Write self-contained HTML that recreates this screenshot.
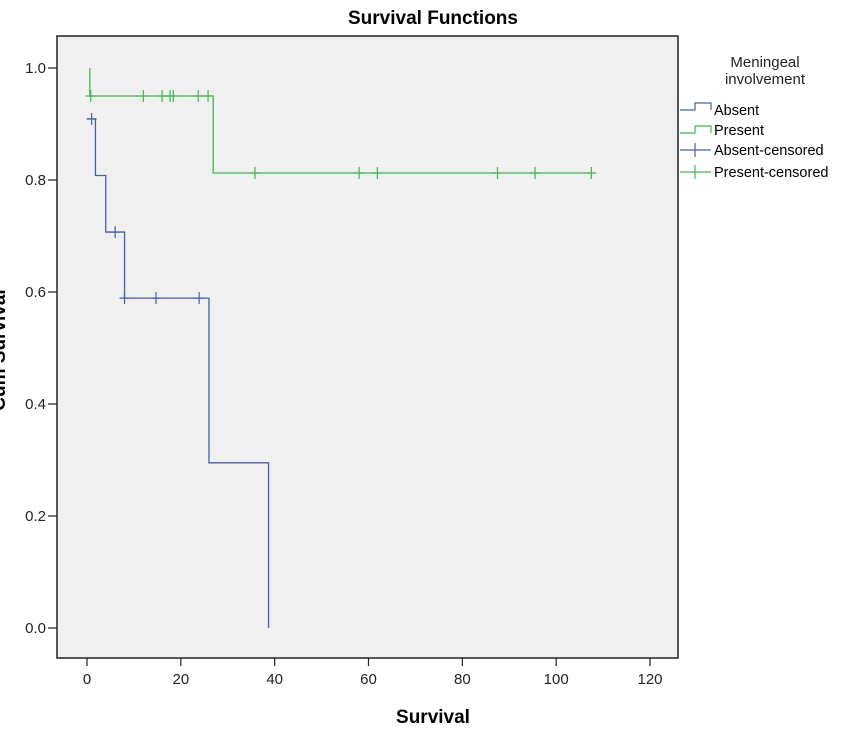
<!DOCTYPE html>
<html><head><meta charset="utf-8"><style>
body{margin:0;background:#fff;}
svg{display:block;font-family:"Liberation Sans",Arial,sans-serif;}
</style></head><body>
<svg id="chart" width="858" height="729" viewBox="0 0 858 729" xmlns="http://www.w3.org/2000/svg">
<text x="433" y="24" text-anchor="middle" font-size="19" font-weight="bold" fill="#000">Survival Functions</text>
<rect x="57" y="36" width="621" height="622" fill="#f0f0f0" stroke="#222" stroke-width="1.5"/>
<g id="axes"></g>
<g id="series"></g>
<text x="433" y="723" text-anchor="middle" font-size="19" font-weight="bold">Survival</text>
<text transform="translate(5,350) rotate(-90)" text-anchor="middle" font-size="19" font-weight="bold">Cum Survival</text>
<g>
<text x="765" y="67" text-anchor="middle" font-size="15" fill="#222">Meningeal</text>
<text x="765" y="84" text-anchor="middle" font-size="15" fill="#222">involvement</text>
<g><path d="M680 110 H695 V103 H711 V110" fill="none" stroke="#4a5ea8" stroke-width="1.2"/><text x="714" y="115" font-size="14.5">Absent</text></g>
<g><path d="M680 133 H695 V126 H711 V133" fill="none" stroke="#45b553" stroke-width="1.2"/><text x="714" y="135" font-size="14.5">Present</text></g>
<g><path d="M680 150 H711 M695 143 V157" stroke="#4a5ea8" stroke-width="1.2"/><text x="714" y="155" font-size="14.5">Absent-censored</text></g>
<g><path d="M680 172 H711 M695 165 V179" stroke="#45b553" stroke-width="1.2"/><text x="714" y="177" font-size="14.5">Present-censored</text></g>
</g>
</svg>
<script>
const xTicks=[0,20,40,60,80,100,120];
const yTicks=[0.0,0.2,0.4,0.6,0.8,1.0];
const absentTimes=[0,1.8,4,8,26,38.7];
const absentSurv=[0.909,0.808,0.707,0.589,0.295,0];
const absentEnd=38.7;
const absentCensT=[1,6,8,14.7,23.9];
const absentCensS=[0.909,0.707,0.589,0.589,0.589];
const presentTimes=[0.6,0.6,26.9];
const presentSurv=[1.0,0.95,0.8125];
const presentEnd=108;
const presentCensT=[0.8,12,16,17.7,18.4,23.7,25.8,35.8,58,61.9,87.5,95.5,107.5];
const presentCensS=[0.95,0.95,0.95,0.95,0.95,0.95,0.95,0.8125,0.8125,0.8125,0.8125,0.8125,0.8125];
const X=v=>87+v*(563/120);
const Y=v=>628-v*560;
const NS='http://www.w3.org/2000/svg';
const axes=document.getElementById('axes'),series=document.getElementById('series');
function mk(tag,attrs,parent){const e=document.createElementNS(NS,tag);for(const k in attrs)e.setAttribute(k,attrs[k]);parent.appendChild(e);return e;}
xTicks.forEach(t=>{
 const l=mk('line',{x1:X(t),x2:X(t),y1:658,y2:666,stroke:'#222','stroke-width':1.2},axes);
 
 
 const tx=mk('text',{x:X(t),y:684,'text-anchor':'middle','font-size':15,fill:'#222'},axes);
 tx.textContent=t;
 
 
});
yTicks.forEach(t=>{
 const l=mk('line',{x1:48,x2:57,y1:Y(t),y2:Y(t),stroke:'#222','stroke-width':1.2},axes);
 
 
 const tx=mk('text',{x:46,y:Y(t)+5,'text-anchor':'end','font-size':15,fill:'#222'},axes);
 tx.textContent=t.toFixed(1);
 
 
});
function stepPath(ts,ss,end){
 let d='M'+X(ts[0])+' '+Y(ss[0]);
 for(let i=1;i<ts.length;i++){d+=' H'+X(ts[i])+' V'+Y(ss[i]);}
 d+=' H'+X(end);return d;
}
const pa=mk('path',{d:stepPath(presentTimes,presentSurv,presentEnd),fill:'none',stroke:'#45b553','stroke-width':1.3},series);


const ab=mk('path',{d:stepPath(absentTimes,absentSurv,absentEnd),fill:'none',stroke:'#4a5ea8','stroke-width':1.3},series);


function cens(ts,ss,col,name){
 ts.forEach((t,i)=>{
  const m=mk('path',{d:'M'+(X(t)-5)+' '+Y(ss[i])+' H'+(X(t)+5)+' M'+X(t)+' '+(Y(ss[i])-6)+' V'+(Y(ss[i])+6),stroke:col,'stroke-width':1.2},series);
  
  
 });
}
cens(absentCensT,absentCensS,'#4a5ea8','absent-censored-mark');
cens(presentCensT,presentCensS,'#45b553','present-censored-mark');
</script>
</body></html>
